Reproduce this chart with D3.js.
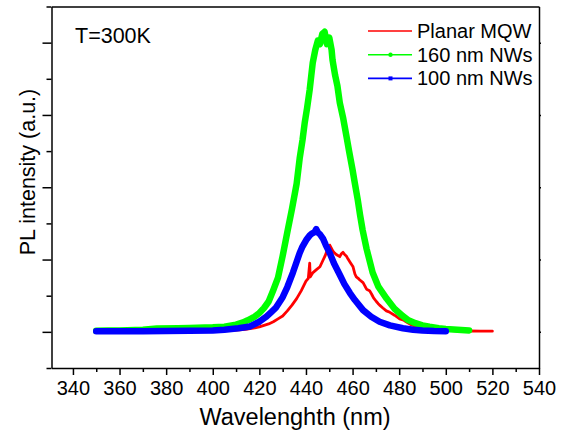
<html>
  <head>
    <script src="https://d3js.org/d3.v7.min.js"></script>
    <style>
      body {
        margin: 0;
        background: #fff;
      }
      text {
        font-family: Arial, "Liberation Sans", sans-serif;
      }
      .axis path,
      .axis line {
        stroke: #000;
        stroke-width: 1.5;
      }
    </style>
  </head>

  <body>
    <svg id="chart" width="561" height="437"></svg>

    <script>
      // x = wavelength (nm), y = PL intensity (a.u., 1 = one major tick)
      const xMajorTicks = [340, 360, 380, 400, 420, 440, 460, 480, 500, 520, 540];
      const xMinorTicks = [350, 370, 390, 410, 430, 450, 470, 490, 510, 530];
      const yMajorTicks = [0, 1, 2, 3, 4];
      const yMinorTicks = [-0.5, 0.5, 1.5, 2.5, 3.5, 4.5];

      const seriesNames = ["Planar MQW", "160 nm NWs", "100 nm NWs"];
      const seriesColors = ["#ff0000", "#00ff00", "#0000ff"];

      const redWl = [350, 360, 370, 380, 390, 400, 405, 410, 414, 418, 420, 422, 424, 426, 428, 430, 432, 434, 436, 438, 440, 441, 441.6, 441.8, 443, 444.5, 446, 447.3, 448.2, 449, 450.2, 451, 451.5, 452.3, 453, 454.5, 455.2, 455.9, 456.6, 457.3, 458, 459, 460.2, 461, 461.6, 462.4, 463, 464.5, 465.2, 466, 467.3, 468.2, 469, 470.2, 471, 471.6, 473, 474.5, 476, 478, 480.2, 482, 483, 485, 486, 488, 490, 493, 496, 500, 505, 510, 515, 520];
      const redV = [0.007, 0.008, 0.01, 0.012, 0.014, 0.015, 0.018, 0.025, 0.035, 0.055, 0.07, 0.09, 0.11, 0.14, 0.18, 0.22, 0.29, 0.37, 0.46, 0.57, 0.7, 0.74, 0.95, 0.76, 0.82, 0.86, 0.9, 0.99, 1.05, 1.12, 1.2, 1.15, 1.12, 1.09, 1.07, 1.04, 1.08, 1.1, 1.07, 1.05, 1.01, 0.96, 0.9, 0.8, 0.76, 0.74, 0.72, 0.68, 0.64, 0.59, 0.57, 0.52, 0.47, 0.42, 0.39, 0.37, 0.33, 0.29, 0.27, 0.23, 0.18, 0.16, 0.14, 0.1, 0.09, 0.065, 0.05, 0.035, 0.025, 0.02, 0.015, 0.012, 0.01, 0.01];

      const greenWl = [350, 355, 360, 370, 376, 385, 390, 400, 405, 410, 413, 415, 418, 420, 422, 424, 426, 428, 430, 432, 434, 436, 437.3, 438.5, 439.5, 440.5, 441.6, 442.3, 442.9, 444, 445.1, 446, 447, 448, 449, 450, 451, 451.4, 452.5, 453.5, 454.5, 456, 457.4, 458.5, 460, 461, 462.2, 463.2, 464.3, 466, 468.6, 471, 474.6, 478, 481.5, 484, 487, 490, 493, 497, 500, 505, 510];
      const greenV = [0.014, 0.017, 0.02, 0.03, 0.045, 0.05, 0.055, 0.062, 0.07, 0.1, 0.13, 0.16, 0.21, 0.26, 0.33, 0.42, 0.58, 0.75, 1.05, 1.38, 1.7, 2.05, 2.4, 2.65, 2.9, 3.1, 3.35, 3.55, 3.72, 3.9, 4.03, 3.98, 4.12, 4.15, 3.98, 4.07, 3.9, 3.76, 3.55, 3.4, 3.17, 2.95, 2.7, 2.5, 2.24, 2.05, 1.83, 1.62, 1.41, 1.15, 0.82, 0.63, 0.46, 0.32, 0.22, 0.16, 0.12, 0.09, 0.07, 0.05, 0.04, 0.03, 0.02];

      const blueWl = [350, 360, 370, 380, 390, 400, 405, 411, 416, 420, 423, 425, 427, 430, 432, 434.4, 436, 437.3, 438.5, 440.1, 441.5, 442.5, 443.7, 444.4, 445.2, 446, 447.3, 448.5, 450.2, 452, 454.5, 456.5, 458.8, 461, 464.5, 468, 471.6, 476, 481.6, 486, 490, 495, 500];
      const blueV = [0.008, 0.008, 0.01, 0.012, 0.015, 0.02, 0.03, 0.05, 0.075, 0.14, 0.21, 0.27, 0.33, 0.48, 0.62, 0.82, 0.97, 1.09, 1.18, 1.27, 1.33, 1.36, 1.38, 1.42, 1.37, 1.35, 1.29, 1.2, 1.09, 0.95, 0.79, 0.66, 0.54, 0.44, 0.3, 0.21, 0.14, 0.09, 0.05, 0.03, 0.02, 0.012, 0.008];

      const svg = d3.select("svg#chart");

      const plot = { left: 51.5, right: 539, top: 6.5, bottom: 368 };

      const xScale = d3.scaleLinear().domain([330.8, 540]).range([plot.left, plot.right]);
      const yScale = d3.scaleLinear().domain([-0.5, 4.5]).range([plot.bottom, plot.top]);

      // curves: red under green under blue
      const line = d3
        .line()
        .x((d) => xScale(d[0]))
        .y((d) => yScale(d[1]));

      const curves = [
        { wl: redWl, v: redV, color: seriesColors[0], width: 2.8 },
        { wl: greenWl, v: greenV, color: seriesColors[1], width: 6.5 },
        { wl: blueWl, v: blueV, color: seriesColors[2], width: 6.5 },
      ];

      svg
        .append("g")
        .selectAll("path")
        .data(curves)
        .join("path")
        .attr("d", (c) => line(c.wl.map((w, i) => [w, c.v[i]])))
        .attr("fill", "none")
        .attr("stroke", (c) => c.color)
        .attr("stroke-width", (c) => c.width)
        .attr("stroke-linejoin", "round")
        .attr("stroke-linecap", "round");

      // axes
      const xMajor = d3.axisBottom(xScale).tickValues(xMajorTicks).tickSize(7).tickSizeOuter(0).tickPadding(6);
      const xMinor = d3.axisBottom(xScale).tickValues(xMinorTicks).tickSize(4).tickFormat("").tickSizeOuter(0);

      const xg = svg
        .append("g")
        .attr("class", "axis")
        .attr("transform", `translate(0,${plot.bottom})`)
        .call(xMajor);
      xg.selectAll("text").attr("font-size", 20).attr("fill", "#000").attr("font-family", "Arial, 'Liberation Sans', sans-serif");
      svg
        .append("g")
        .attr("class", "axis")
        .attr("transform", `translate(0,${plot.bottom})`)
        .call(xMinor)
        .select(".domain")
        .remove();

      const yMajor = d3.axisLeft(yScale).tickValues(yMajorTicks).tickSize(9).tickFormat("").tickSizeOuter(0);
      const yMinor = d3.axisLeft(yScale).tickValues(yMinorTicks).tickSize(5).tickFormat("").tickSizeOuter(0);

      svg
        .append("g")
        .attr("class", "axis")
        .attr("transform", `translate(${plot.left},0)`)
        .call(yMajor);
      svg
        .append("g")
        .attr("class", "axis")
        .attr("transform", `translate(${plot.left},0)`)
        .call(yMinor)
        .select(".domain")
        .remove();

      // frame: top and right
      svg
        .append("g")
        .attr("class", "axis")
        .attr("transform", `translate(0,${plot.top})`)
        .call(d3.axisTop(xScale).tickValues([]).tickSizeOuter(0));
      svg
        .append("g")
        .attr("class", "axis")
        .attr("transform", `translate(${plot.right},0)`)
        .call(d3.axisRight(yScale).tickValues(yMajorTicks).tickSize(2).tickFormat("").tickSizeOuter(0));

      // axis titles
      svg
        .append("text")
        .attr("x", 295)
        .attr("y", 425)
        .attr("text-anchor", "middle")
        .attr("font-size", 23.5)
        .text("Wavelenghth (nm)");

      svg
        .append("text")
        .attr("transform", `translate(35,${172}) rotate(-90)`)
        .attr("text-anchor", "middle")
        .attr("font-size", 21.5)
        .text("PL intensity (a.u.)");

      svg
        .append("text")
        .attr("x", 75)
        .attr("y", 43)
        .attr("font-size", 21.5)
        .text("T=300K");

      // legend
      const legend = svg
        .append("g")
        .selectAll("g")
        .data(seriesNames)
        .join("g")
        .attr("transform", (d, i) => `translate(368,${31 + i * 23.7})`);

      legend
        .append("line")
        .attr("x1", 0)
        .attr("x2", 44)
        .attr("stroke", (d, i) => seriesColors[i])
        .attr("stroke-width", 1.6);

      legend
        .filter((d, i) => i == 1)
        .append("circle")
        .attr("cx", 22.5)
        .attr("r", 2.2)
        .attr("fill", seriesColors[1]);

      legend
        .filter((d, i) => i == 2)
        .append("rect")
        .attr("x", 20.5)
        .attr("y", -2)
        .attr("width", 4)
        .attr("height", 4)
        .attr("fill", seriesColors[2]);

      legend
        .append("text")
        .attr("x", 49)
        .attr("y", 7)
        .attr("font-size", 20)
        .text((d) => d);
    </script>
  </body>
</html>
